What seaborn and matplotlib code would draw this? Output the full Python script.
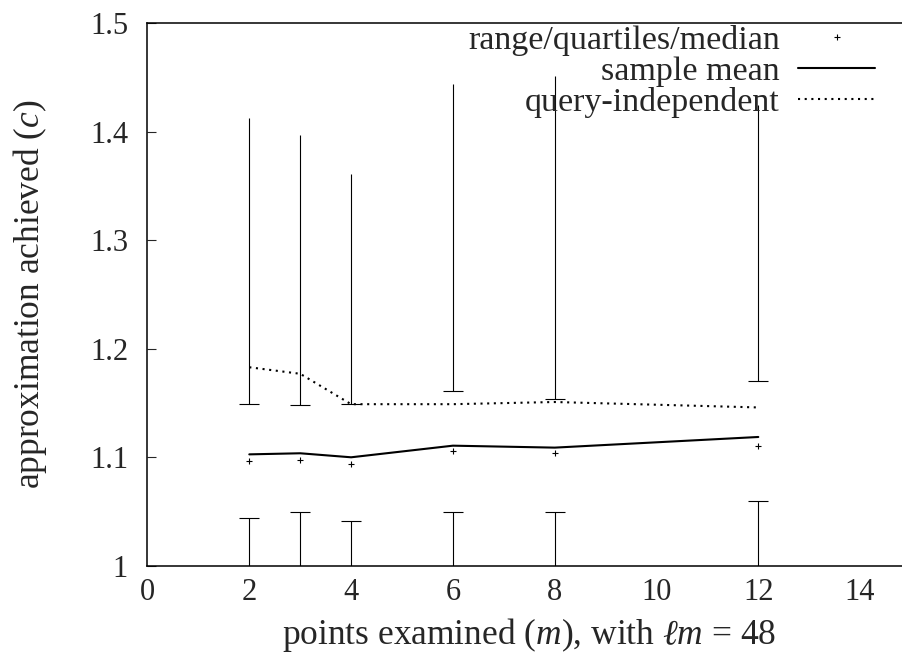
import matplotlib
matplotlib.use("Agg")
import matplotlib.pyplot as plt
from matplotlib.lines import Line2D
from matplotlib.ticker import FuncFormatter
import seaborn as sns
import pandas as pd

# ---- data ----
m_values = [2, 3, 4, 6, 8, 12]
range_min = [1.0, 1.0, 1.0, 1.0, 1.0, 1.0]
quart_low = [1.0439, 1.0500, 1.0417, 1.0494, 1.0500, 1.0602]
median = [1.0967, 1.0973, 1.0939, 1.1062, 1.1038, 1.1108]
quart_high = [1.1489, 1.1480, 1.1489, 1.1611, 1.1538, 1.1706]
range_max = [1.4122, 1.3966, 1.3612, 1.4438, 1.4510, 1.4245]
sample_mean = [1.1028, 1.1038, 1.1001, 1.1108, 1.1090, 1.1188]
query_indep = [1.183, 1.177, 1.149, 1.149, 1.151, 1.146]

x_ticks = [0, 2, 4, 6, 8, 10, 12, 14]
y_ticks = [1.0, 1.1, 1.2, 1.3, 1.4, 1.5]

df = pd.DataFrame({"m": m_values, "lo": range_min, "q1": quart_low,
                   "med": median, "q3": quart_high, "hi": range_max,
                   "mean": sample_mean, "qi": query_indep})

sns.set_style("white")
plt.rcParams["font.family"] = ["Liberation Serif", "DejaVu Serif"]
plt.rcParams["mathtext.fontset"] = "custom"
plt.rcParams["mathtext.rm"] = "Liberation Serif"
plt.rcParams["mathtext.it"] = "Liberation Serif:italic"
plt.rcParams["mathtext.cal"] = "DejaVu Serif"

TICK_FS = 22
LABEL_FS = 25.5
LEG_FS = 24.5

W, H = 903, 658
fig = plt.figure(figsize=(W / 100, H / 100), dpi=100)
left, right, top, bottom = 147.5, 911.0, 23.0, 566.0
ax = fig.add_axes([left / W, 1 - bottom / H, (right - left) / W, (bottom - top) / H])

# whiskers: min..Q1 and Q3..max with a bar at each quartile
bar = 0.2
ax.vlines(df["m"], df["lo"], df["q1"], color="black", lw=0.8)
ax.vlines(df["m"], df["q3"], df["hi"], color="black", lw=0.8)
ax.hlines(df["q1"], df["m"] - bar, df["m"] + bar, color="black", lw=0.8)
ax.hlines(df["q3"], df["m"] - bar, df["m"] + bar, color="black", lw=0.8)

sns.scatterplot(data=df, x="m", y="med", marker="+", s=16, color="black",
                linewidth=0.8, ax=ax, legend=False, zorder=3)
sns.lineplot(data=df, x="m", y="mean", color="black", lw=1.5, ax=ax,
             legend=False)
sns.lineplot(data=df, x="m", y="qi", color="black", lw=1.5, ax=ax,
             legend=False, dashes=False, linestyle=(0, (1, 2.2)))

ax.set_xlim(0, 15)
ax.set_ylim(1.0, 1.5)
ax.set_xticks(x_ticks)
ax.set_yticks(y_ticks)
ax.yaxis.set_major_formatter(FuncFormatter(lambda v, p: "%g" % v))
ax.tick_params(axis="x", length=0, pad=9, labelsize=TICK_FS)
ax.tick_params(axis="y", direction="in", length=6.5, width=0.8, pad=14,
               labelsize=TICK_FS, right=True, left=True)

for s in ["left", "top", "bottom", "right"]:
    ax.spines[s].set_linewidth(1.1)
    ax.spines[s].set_color("black")

ax.set_xlabel(r"points examined ($m$), with $\ell m$ = 48", fontsize=LABEL_FS)
ax.set_ylabel(r"approximation achieved ($c$)", fontsize=LABEL_FS)
ax.xaxis.set_label_coords(0.5, -0.093)
ax.yaxis.set_label_coords(-0.129, 0.5)

handles = [
    Line2D([], [], marker="+", ls="none", color="black", ms=4, mew=0.8),
    Line2D([], [], color="black", lw=1.5),
    Line2D([], [], color="black", lw=1.5, linestyle=(0, (1, 2.2))),
]
labels = ["range/quartiles/median", "sample mean", "query-independent"]
leg = ax.legend(handles, labels, loc="upper right", frameon=False,
                markerfirst=False, fontsize=LEG_FS, handlelength=2.25,
                handletextpad=0.55, labelspacing=0.0, borderpad=0,
                borderaxespad=0, bbox_to_anchor=(875 / W, 1 - 25 / H),
                bbox_transform=fig.transFigure)

fig.savefig("out.png", dpi=100)
